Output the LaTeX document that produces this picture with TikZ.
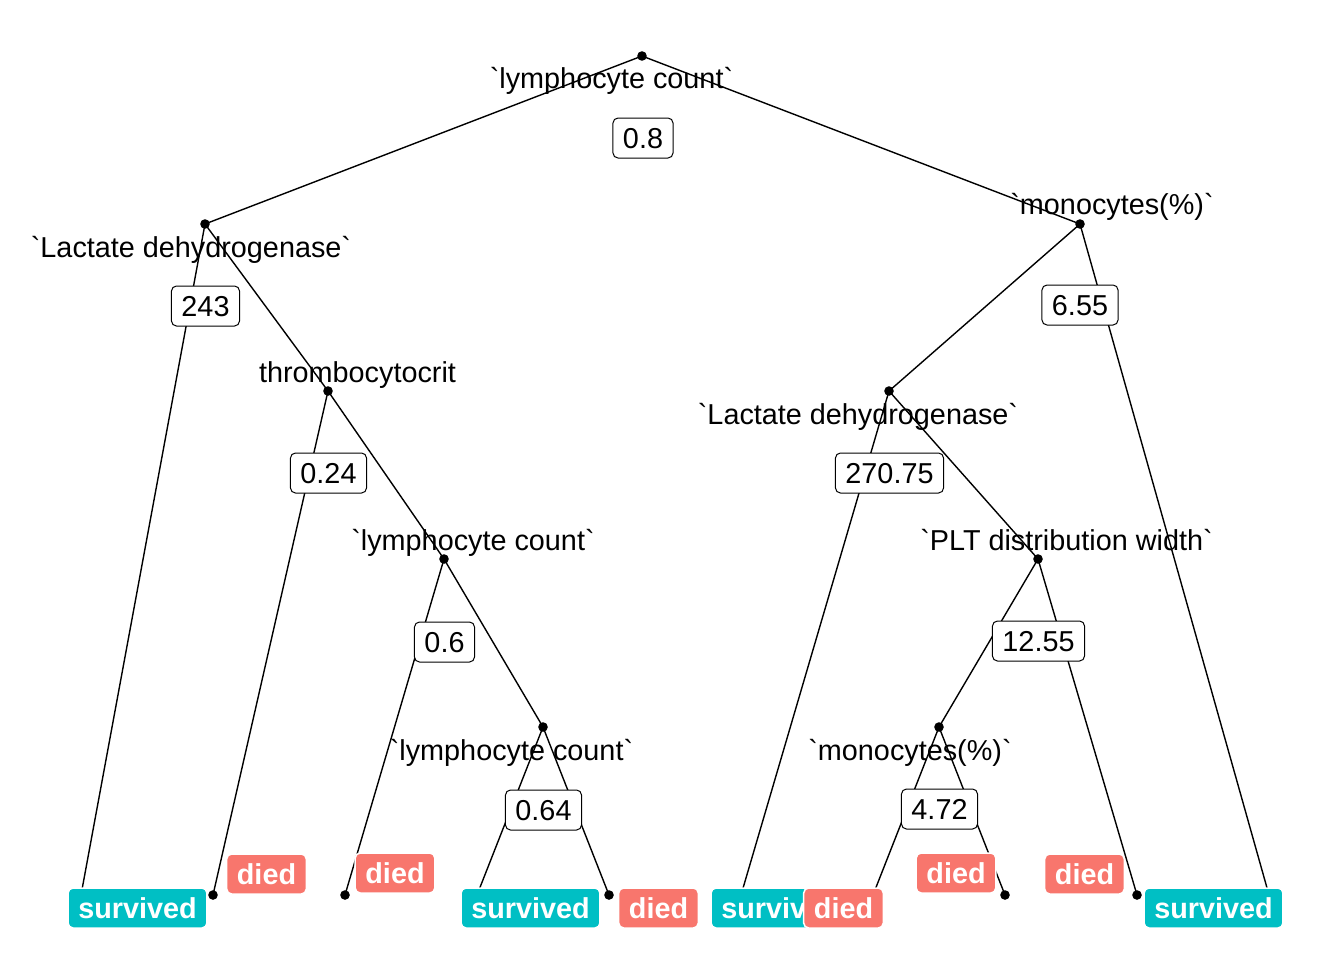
\documentclass[tikz,border=0pt]{standalone}
\usepackage{fontspec}
\setmainfont{Liberation Sans}[Ligatures=TeXOff]
\newcommand{\labfont}{\fontsize{14.4pt}{17pt}\selectfont}
\newcommand{\bq}{\symbol{96}}
\definecolor{teal}{HTML}{00BFC4}
\definecolor{salmon}{HTML}{F8766D}
\tikzset{
  edge/.style={line width=0.7pt, black},
  dotmark/.style={fill=black},
  splitbox/.style={draw=black, line width=0.5pt, fill=white, rounded corners=2.5pt,
    inner xsep=5pt, inner ysep=0pt, minimum height=20pt, text height=10.3pt, text depth=0pt,
    font=\labfont},
  nlab/.style={anchor=base, inner sep=0pt, font=\labfont},
  leafbox/.style={draw=white, line width=0.75pt, rounded corners=2.5pt, text=white,
    inner xsep=5.1pt, inner ysep=0pt, minimum height=20pt, text height=10.5pt, text depth=0pt,
    font=\labfont\bfseries},
  surv/.style={leafbox, fill=teal},
  died/.style={leafbox, fill=salmon}
}
\begin{document}
\begin{tikzpicture}[x=0.5pt,y=-0.5pt]
\useasboundingbox (0,0) rectangle (1344,960);
\fill[white] (0,0) rectangle (1344,960);
% inner nodes
\coordinate (n1) at (642,56);
\coordinate (n2) at (205,224);
\coordinate (n3) at (328,391);
\coordinate (n4) at (444,559);
\coordinate (n5) at (543,727);
\coordinate (n6) at (1080,224);
\coordinate (n7) at (889,391);
\coordinate (n8) at (1038,559);
\coordinate (n9) at (939,727);
% leaves
\coordinate (l1) at (81,895);
\coordinate (l2) at (213,895);
\coordinate (l3) at (345,895);
\coordinate (l4) at (477,895);
\coordinate (l5) at (609,895);
\coordinate (l6) at (741,895);
\coordinate (l7) at (873,895);
\coordinate (l8) at (1005,895);
\coordinate (l9) at (1137,895);
\coordinate (l10) at (1269,895);
% edges
\draw[edge] (n1) -- (n2);
\draw[edge] (n1) -- (n6);
\draw[edge] (n2) -- (l1);
\draw[edge] (n2) -- (n3);
\draw[edge] (n3) -- (l2);
\draw[edge] (n3) -- (n4);
\draw[edge] (n4) -- (l3);
\draw[edge] (n4) -- (n5);
\draw[edge] (n5) -- (l4);
\draw[edge] (n5) -- (l5);
\draw[edge] (n6) -- (n7);
\draw[edge] (n6) -- (l10);
\draw[edge] (n7) -- (l6);
\draw[edge] (n7) -- (n8);
\draw[edge] (n8) -- (n9);
\draw[edge] (n8) -- (l9);
\draw[edge] (n9) -- (l7);
\draw[edge] (n9) -- (l8);
% dots
\foreach \p in {n1,n2,n3,n4,n5,n6,n7,n8,n9,l1,l2,l3,l4,l5,l6,l7,l8,l9,l10}
  \fill[dotmark] (\p) circle (2.4pt);
% split labels
\node[splitbox] (s1) at (643,138) {0.8};
\node[splitbox] (s2) at (205.5,306) {243};
\node[splitbox] (s3) at (328.5,473) {0.24};
\node[splitbox] (s4) at (444.5,642) {0.6};
\node[splitbox] (s5) at (543.5,810) {0.64};
\node[splitbox] (s6) at (1080,305) {6.55};
\node[splitbox] (s7) at (889.5,473) {270.75};
\node[splitbox] (s8) at (1038.5,641) {12.55};
\node[splitbox] (s9) at (939.5,809) {4.72};
% node labels
\node[nlab] (t1) at (611.5,88) {\bq lymphocyte count\bq};
\node[nlab] (t2) at (191,257) {\bq Lactate dehydrogenase\bq};
\node[nlab] (t3) at (357.5,382) {thrombocytocrit};
\node[nlab] (t4) at (473,550) {\bq lymphocyte count\bq};
\node[nlab] (t5) at (511.5,760) {\bq lymphocyte count\bq};
\node[nlab] (t6) at (1112,214) {\bq monocytes(\%)\bq};
\node[nlab] (t7) at (858,424) {\bq Lactate dehydrogenase\bq};
\node[nlab] (t8) at (1066.5,550) {\bq PLT distribution width\bq};
\node[nlab] (t9) at (910,760) {\bq monocytes(\%)\bq};
% leaf labels
\node[surv] (f1) at (137.5,908) {survived};
\node[died] (f2) at (266.5,874) {died};
\node[died] (f3) at (395,873) {died};
\node[surv] (f4) at (530.5,908) {survived};
\node[died] (f5) at (658.5,908) {died};
\node[surv] (f6) at (780.5,908) {survived};
\node[died] (f7) at (843.5,908) {died};
\node[died] (f8) at (956,873) {died};
\node[died] (f9) at (1084.5,874) {died};
\node[surv] (f10) at (1213.5,908) {survived};
\end{tikzpicture}
\end{document}
